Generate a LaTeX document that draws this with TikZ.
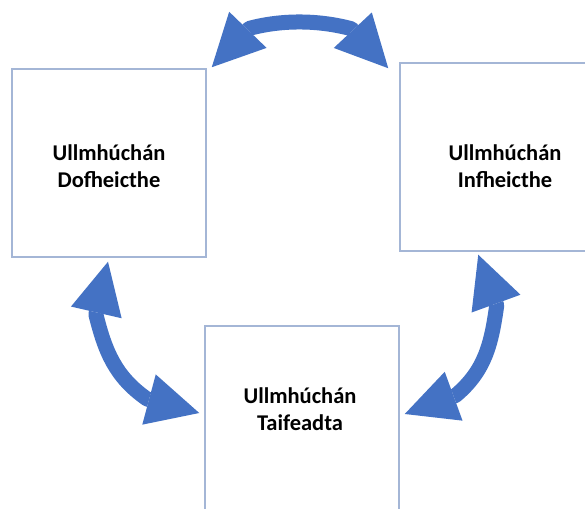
\documentclass[tikz,border=0pt]{standalone}
\usepackage{fontspec}
\setmainfont{Carlito}
\usetikzlibrary{arrows.meta}
\definecolor{arrowblue}{RGB}{68,114,196}
\definecolor{boxline}{RGB}{164,182,214}

\begin{document}
\begin{tikzpicture}[x=1pt, y=1pt,
    box/.style={draw=boxline, line width=1.5pt, fill=white, inner sep=0pt,
                minimum width=194pt, minimum height=188pt},
    caption/.style={font=\fontsize{22.5}{27}\selectfont\bfseries, align=center},
    twoway/.style={draw=arrowblue, line width=15pt, line join=round,
      {Triangle[length=52pt,width=52pt,line width=0pt]}-{Triangle[length=52pt,width=52pt,line width=0pt]}}]
    \clip (0,0) rectangle (585,508);
    \fill[white] (0,0) rectangle (585,508);
    % the three boxes
    \node[box] (dof) at (109,345) {};
    \node[box, minimum width=210pt] (inf) at (505,351) {};
    \node[box, minimum height=200pt] (taif) at (302,82) {};
    \node[caption] (dofT) at (109,341.5) {Ullmhúchán\\Dofheicthe};
    \node[caption] (infT) at (505,341.5) {Ullmhúchán\\Infheicthe};
    \node[caption] (taifT) at (300,99) {Ullmhúchán\\Taifeadta};
    % arrow tips next to the boxes
    \coordinate (topL) at ([shift={(5,1)}]dof.north east);
    \coordinate (topR) at ([shift={(-11,-6)}]inf.north west);
    \coordinate (leftU) at ([shift={(-1,-4)}]dof.south);
    \coordinate (leftD) at ([shift={(-5,13)}]taif.west);
    \coordinate (rightU) at ([shift={(79,-3)}]inf.south west);
    \coordinate (rightD) at ([shift={(5,12)}]taif.east);
    % curved double arrows
    \draw[twoway] (topL) -- ++(46:54) to[out=15, in=165, looseness=0.85]
        ([shift={(133:54)}]topR) -- (topR);
    \draw[twoway] (leftU) -- ++(257:54) to[out=284, in=145]
        ([shift={(165:54)}]leftD) -- (leftD);
    \draw[twoway] (rightU) -- ++(290:54) to[out=262, in=40]
        ([shift={(20:54)}]rightD) -- (rightD);
\end{tikzpicture}
\end{document}
